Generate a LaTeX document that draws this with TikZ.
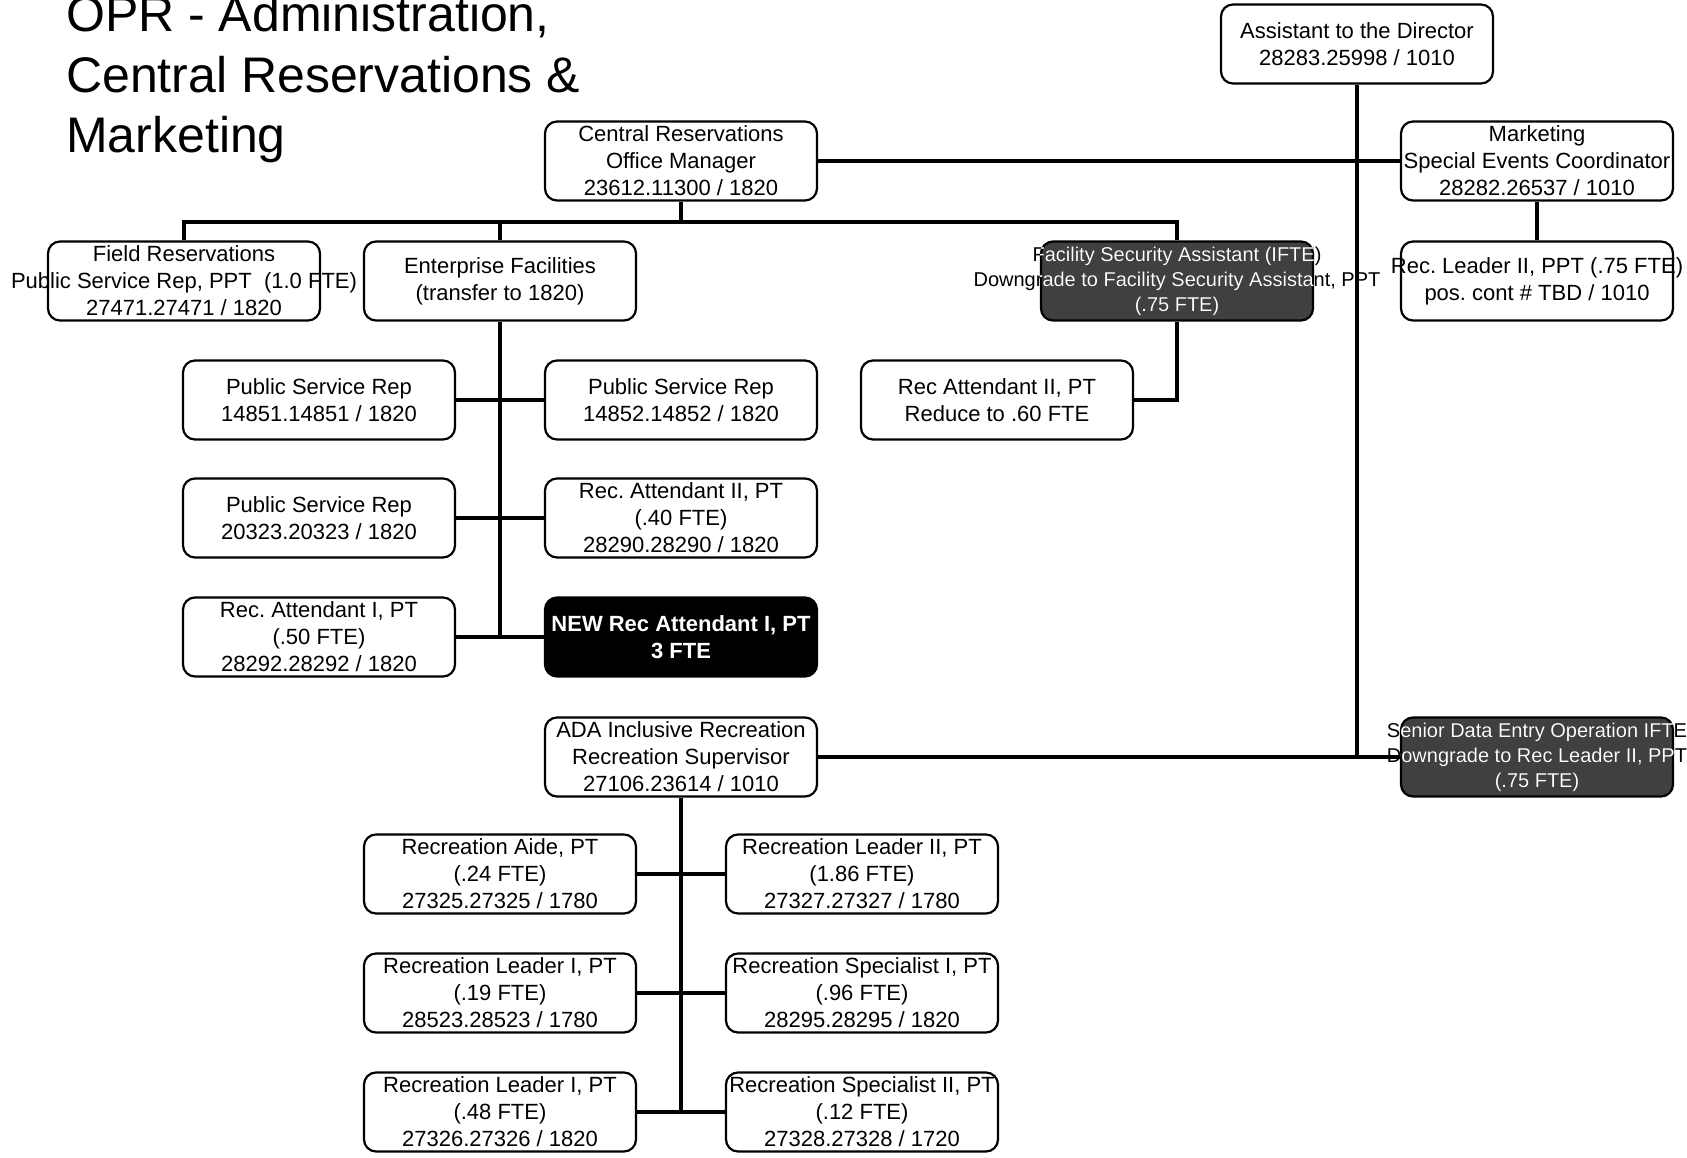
\documentclass[tikz,border=0pt]{standalone}
\usepackage{fontspec}
\setmainfont{Liberation Sans}
\newcommand\boxfont{\fontsize{22}{27}\selectfont\frenchspacing}
\newcommand\darkfont{\fontsize{20}{25}\selectfont\frenchspacing}
\newcommand\titlefont{\fontsize{50}{60}\selectfont}
\tikzset{
  box/.style={draw, line width=2.2pt, rounded corners=12pt, minimum width=272pt, minimum height=79pt, inner sep=0pt, fill=white},
  darkbox/.style={box, fill=black!75},
  blackbox/.style={box, fill=black},
  txt/.style={font=\boxfont, align=center, inner sep=0pt},
  dtxt/.style={font=\darkfont, align=center, inner sep=0pt},
  conn/.style={line width=4pt},
  ttl/.style={font=\titlefont, anchor=base west, inner sep=0pt}
}
\newcommand\orgbox[4][box]{%
  \node[#1] (#2) at (#3) {};
  \node[txt] (#2-t) at (#2) {#4};
}
\begin{document}
\begin{tikzpicture}[x=1pt,y=-1pt]
\fill[white] (0,0) rectangle (1687,1158);
\useasboundingbox (0,0) rectangle (1687,1158);

% title
\node[ttl] (t1) at (66,32) {OPR - Administration,};
\node[ttl] (t2) at (66,93) {Central Reservations \&};
\node[ttl] (t3) at (66,153) {Marketing};

% boxes
\orgbox{asst}{1357,44}{Assistant to the Director\\28283.25998 / 1010}
\orgbox{central}{681,161}{Central Reservations\\Office Manager\\23612.11300 / 1820}
\orgbox{mkt}{1537,161}{Marketing\\Special Events Coordinator\\28282.26537 / 1010}
\orgbox{field}{184,281}{Field Reservations\\Public Service Rep, PPT\ \ (1.0 FTE)\\27471.27471 / 1820}
\orgbox{ent}{500,281}{Enterprise Facilities\\(transfer to 1820)}
\node[darkbox] (fac) at (1177,281) {};
\node[dtxt] (fac-t) at (fac) {Facility Security Assistant (IFTE)\\Downgrade to Facility Security Assistant, PPT\\(.75 FTE)};
\begin{scope}
  \clip[rounded corners=12pt] (fac.south west) rectangle (fac.north east);
  \node[dtxt, text=white] (fac-w) at (fac) {Facility Security Assistant (IFTE)\\Downgrade to Facility Security Assistant, PPT\\(.75 FTE)};
\end{scope}
\orgbox{rlppt}{1537,281}{Rec. Leader II, PPT (.75 FTE)\\pos. cont \# TBD / 1010}
\orgbox{psra}{319,400}{Public Service Rep\\14851.14851 / 1820}
\orgbox{psrb}{681,400}{Public Service Rep\\14852.14852 / 1820}
\orgbox{raa}{997,400}{Rec Attendant II, PT\\Reduce to .60 FTE}
\orgbox{psrc}{319,518}{Public Service Rep\\20323.20323 / 1820}
\orgbox{rab}{681,518}{Rec. Attendant II, PT\\(.40 FTE)\\28290.28290 / 1820}
\orgbox{rac}{319,637}{Rec. Attendant I, PT\\(.50 FTE)\\28292.28292 / 1820}
\node[blackbox] (new) at (681,637) {};
\node[txt, text=white, font=\boxfont\bfseries] (new-t) at (new) {NEW Rec Attendant I, PT\\3 FTE};
\orgbox{ada}{681,757}{ADA Inclusive Recreation\\Recreation Supervisor\\27106.23614 / 1010}
\node[darkbox] (sen) at (1537,757) {};
\node[dtxt] (sen-t) at (sen) {Senior Data Entry Operation IFTE\\Downgrade to Rec Leader II, PPT\\(.75 FTE)};
\begin{scope}
  \clip[rounded corners=12pt] (sen.south west) rectangle (sen.north east);
  \node[dtxt, text=white] (sen-w) at (sen) {Senior Data Entry Operation IFTE\\Downgrade to Rec Leader II, PPT\\(.75 FTE)};
\end{scope}
\orgbox{aide}{500,874}{Recreation Aide, PT\\(.24 FTE)\\27325.27325 / 1780}
\orgbox{rlb}{862,874}{Recreation Leader II, PT\\(1.86 FTE)\\27327.27327 / 1780}
\orgbox{rlc}{500,993}{Recreation Leader I, PT\\(.19 FTE)\\28523.28523 / 1780}
\orgbox{rsa}{862,993}{Recreation Specialist I, PT\\(.96 FTE)\\28295.28295 / 1820}
\orgbox{rld}{500,1112}{Recreation Leader I, PT\\(.48 FTE)\\27326.27326 / 1820}
\orgbox{rsb}{862,1112}{Recreation Specialist II, PT\\(.12 FTE)\\27328.27328 / 1720}

% connectors
\coordinate (bar) at (681,222);
\draw[conn] (asst.south) -- (asst.south |- ada.east);
\draw[conn] (central.east) -- (mkt.west);
\draw[conn] (mkt.south) -- (rlppt.north);
\draw[conn] (central.south) -- (bar);
\draw[conn] (field.north) -- (field.north |- bar) -- (fac.north |- bar) -- (fac.north);
\draw[conn] (ent.north) -- (ent.north |- bar);
\draw[conn] (ent.south) -- (ent.south |- rac.east);
\draw[conn] (psra.east) -- (psrb.west);
\draw[conn] (psrc.east) -- (rab.west);
\draw[conn] (rac.east) -- (new.west);
\draw[conn] (fac.south) |- (raa.east);
\draw[conn] (ada.east) -- (sen.west);
\draw[conn] (ada.south) -- (ada.south |- rld.east);
\draw[conn] (aide.east) -- (rlb.west);
\draw[conn] (rlc.east) -- (rsa.west);
\draw[conn] (rld.east) -- (rsb.west);
\end{tikzpicture}
\end{document}
